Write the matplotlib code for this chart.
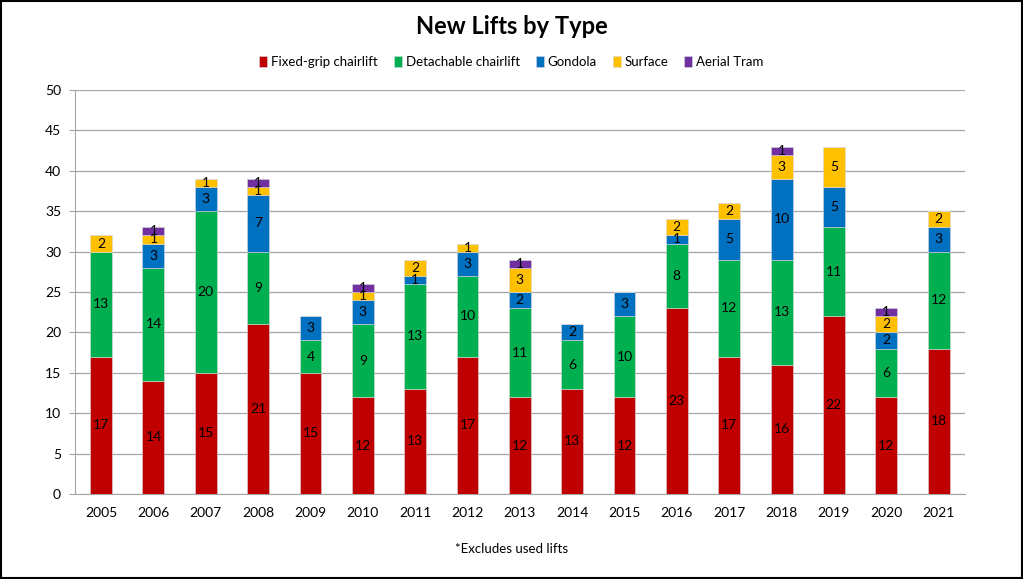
import matplotlib
matplotlib.use("Agg")
import matplotlib.pyplot as plt
import numpy as np

plt.rcParams['font.family'] = ['Lato', 'DejaVu Sans']

years = ['2005', '2006', '2007', '2008', '2009', '2010', '2011', '2012', '2013',
         '2014', '2015', '2016', '2017', '2018', '2019', '2020', '2021']
fixed_grip = [17, 14, 15, 21, 15, 12, 13, 17, 12, 13, 12, 23, 17, 16, 22, 12, 18]
detachable = [13, 14, 20, 9, 4, 9, 13, 10, 11, 6, 10, 8, 12, 13, 11, 6, 12]
gondola = [0, 3, 3, 7, 3, 3, 1, 3, 2, 2, 3, 1, 5, 10, 5, 2, 3]
surface = [2, 1, 1, 1, 0, 1, 2, 1, 3, 0, 0, 2, 2, 3, 5, 2, 2]
aerial_tram = [0, 1, 0, 1, 0, 1, 0, 0, 1, 0, 0, 0, 0, 1, 0, 1, 0]

series = [
    ('Fixed-grip chairlift', fixed_grip, '#C00000'),
    ('Detachable chairlift', detachable, '#00B050'),
    ('Gondola', gondola, '#0070C0'),
    ('Surface', surface, '#FFC000'),
    ('Aerial Tram', aerial_tram, '#7030A0'),
]

fig = plt.figure(figsize=(10.23, 5.79), dpi=100)
ax = fig.add_axes([0.0733, 0.1468, 0.8697, 0.6978])

x = np.arange(len(years))
bottom = np.zeros(len(years))
for name, vals, col in series:
    vals = np.array(vals, dtype=float)
    bars = ax.bar(x, vals, 0.42, bottom=bottom, color=col, label=name,
                  edgecolor='#d9d9d9', linewidth=0.4, zorder=3)
    for xi, b, v in zip(x, bottom, vals):
        if v > 0:
            ax.text(xi, b + v / 2, '%d' % v, ha='center', va='center',
                    fontsize=10, color='black', zorder=4)
    bottom += vals

ax.set_ylim(0, 50)
ax.set_yticks(range(0, 51, 5))
ax.set_xlim(-0.5, len(years) - 0.5)
ax.set_xticks(x)
ax.set_xticklabels(years)
ax.yaxis.grid(True, color='#a6a6a6', linewidth=0.9, zorder=0)
ax.set_axisbelow(True)
for s in ['top', 'right']:
    ax.spines[s].set_visible(False)
ax.spines['left'].set_color('#a6a6a6')
ax.spines['bottom'].set_color('#a6a6a6')
ax.tick_params(axis='y', length=4, color='#a6a6a6', labelsize=10, pad=6)
ax.tick_params(axis='x', length=0, labelsize=10, pad=9)

fig.text(0.5, 0.955, 'New Lifts by Type', ha='center', va='center',
         fontsize=17, fontweight='bold')
handles, labels = ax.get_legend_handles_labels()
fig.legend(handles, labels, loc='center', bbox_to_anchor=(0.5, 0.893), ncol=5,
           frameon=False, fontsize=9.5, handlelength=0.6, handleheight=0.9,
           handletextpad=0.3, columnspacing=1.2)
fig.text(0.5, 0.052, '*Excludes used lifts', ha='center', va='center', fontsize=9.5)

fig.patches.append(plt.Rectangle((0.001, 0.001), 0.998, 0.997, transform=fig.transFigure,
                                 fill=False, edgecolor='black', linewidth=1.5))
fig.savefig('out.png', dpi=100)
